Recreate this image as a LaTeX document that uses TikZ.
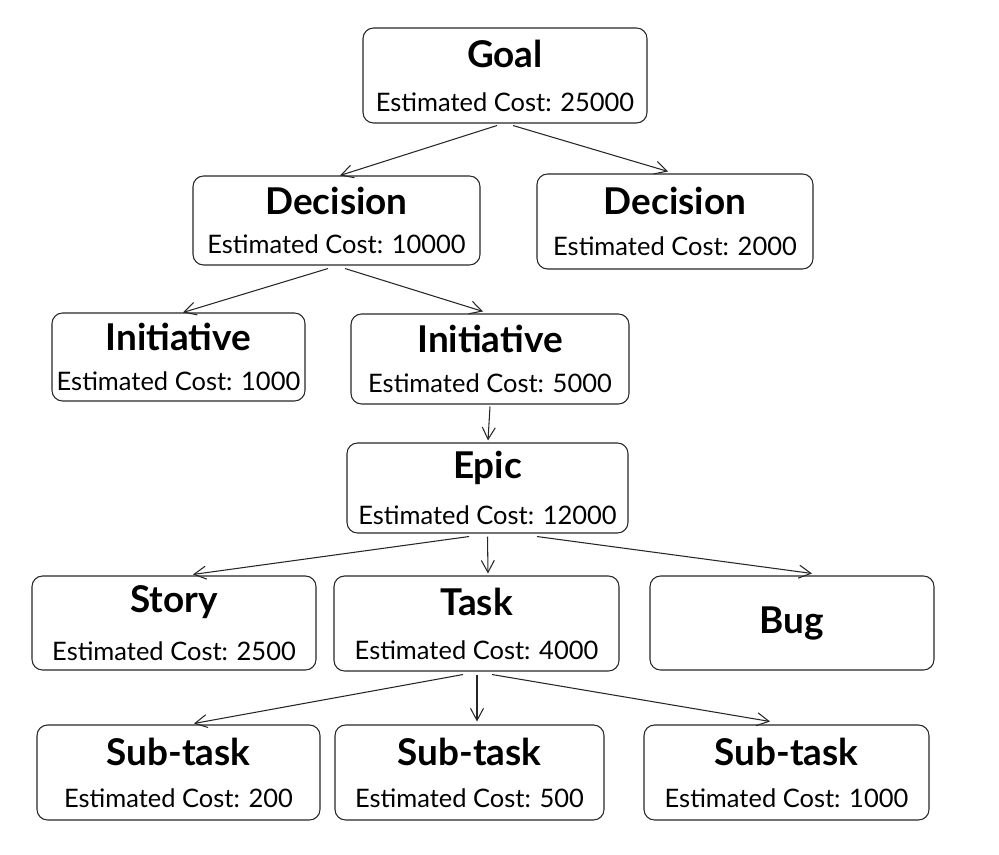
\documentclass[tikz,border=0pt]{standalone}
\usepackage{fontspec}
\setmainfont{Lato}
\usepackage{tikz}
\usetikzlibrary{arrows.meta}

\newcommand{\ttl}[1]{{\fontsize{21}{24}\selectfont\bfseries #1}}
\newcommand{\cost}[1]{{\fontsize{14.5}{17.5}\selectfont Estimated Cost: #1}}

\begin{document}
\begin{tikzpicture}[scale = 1,-{Straight Barb[length=2.4mm,width=2.6mm]},draw=black!85,line width=0.6pt]
		\tikzstyle{card}=[draw=black!85,rounded corners=6pt,align=center,inner sep=0pt,line width=0.6pt]
		\tikzstyle{wide}=[card,minimum width=5.68cm,minimum height=1.9cm]
		
		\useasboundingbox (0,0) rectangle (19.98,17.08);
		
		\node[card,minimum width=5.68cm,minimum height=1.9cm] (goal) at (10.10,15.57) {\ttl{Goal}\\[13pt]\cost{25000}};
		
		\node[card,minimum width=5.74cm,minimum height=1.78cm] (dec1) at (6.73,12.67) {\ttl{Decision}\\[10pt]\cost{10000}};
		\node[card,minimum width=5.52cm,minimum height=1.9cm] (dec2) at (13.50,12.65) {\ttl{Decision}\\[11pt]\cost{2000}};
		
		\node[card,minimum width=5.06cm,minimum height=1.76cm] (ini1) at (3.57,9.94) {\ttl{Initiative}\\[11pt]\cost{1000}};
		\node[card,minimum width=5.56cm,minimum height=1.8cm] (ini2) at (9.80,9.90) {\ttl{Initiative}\\[11pt]\cost{5000}};
		
		\node[card,minimum width=5.62cm,minimum height=1.8cm] (epic) at (9.75,7.32) {\ttl{Epic}\\[11pt]\cost{12000}};
		
		\node[wide,minimum height=1.88cm] (story) at (3.48,4.62) {\ttl{Story}\\[12pt]\cost{2500}};
		\node[wide,minimum width=5.70cm] (task) at (9.53,4.61) {\ttl{Task}\\[13pt]\cost{4000}};
		\node[wide,minimum height=1.88cm] (bug) at (15.84,4.62) {\ttl{Bug}};
		
		\node[wide,minimum width=5.66cm] (sub1) at (3.57,1.63) {\ttl{Sub-task}\\[12pt]\cost{200}};
		\node[wide,minimum width=5.38cm] (sub2) at (9.39,1.63) {\ttl{Sub-task}\\[12pt]\cost{500}};
		\node[wide,minimum width=5.70cm] (sub3) at (15.73,1.63) {\ttl{Sub-task}\\[12pt]\cost{1000}};
		
		% goal and decisions
		\draw ([xshift=-0.16cm,yshift=-0.04cm]goal.south) -- ([xshift=0.07cm]dec1.north);
		\draw ([xshift=0.16cm,yshift=-0.04cm]goal.south) -- ([xshift=-0.14cm,yshift=0.04cm]dec2.north);
		\draw ([xshift=-0.17cm,yshift=-0.06cm]dec1.south) -- ([xshift=0.09cm]ini1.north);
		\draw ([xshift=0.17cm,yshift=-0.06cm]dec1.south) -- ([xshift=-0.14cm,yshift=0.04cm]ini2.north);
		\draw ([yshift=-0.04cm]ini2.south) -- ([xshift=0.01cm,yshift=0.04cm]epic.north);
		
		% epic and work items
		\draw ([xshift=-0.37cm,yshift=-0.06cm]epic.south) -- ([xshift=0.38cm,yshift=0.02cm]story.north);
		\draw ([yshift=-0.06cm]epic.south) -- ([xshift=0.23cm,yshift=0.04cm]task.north);
		\draw ([xshift=0.99cm,yshift=-0.06cm]epic.south) -- ([xshift=0.4cm,yshift=0.04cm]bug.north);
		\draw ([xshift=-0.27cm,yshift=-0.06cm]task.south) -- ([xshift=0.31cm,yshift=0.02cm]sub1.north);
		\draw ([xshift=0.01cm,yshift=-0.06cm]task.south) -- ([xshift=0.15cm,yshift=0.06cm]sub2.north);
		\draw ([xshift=0.31cm,yshift=-0.06cm]task.south) -- ([xshift=-0.33cm,yshift=0.06cm]sub3.north);
		\end{tikzpicture}
\end{document}
